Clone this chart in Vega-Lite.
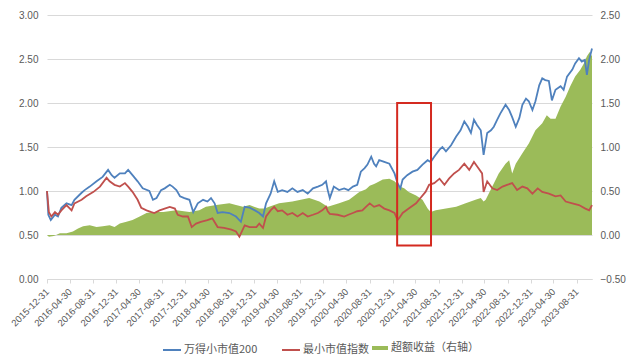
{
  "$schema": "https://vega.github.io/schema/vega-lite/v6.json",
  "width": 545,
  "height": 264,
  "autosize": "none",
  "padding": {"left": 47, "top": 15, "right": 48, "bottom": 82},
  "background": "white",
  "config": {
    "font": "Liberation Sans",
    "view": {"stroke": null},
    "axis": {"labelFont": "Liberation Sans", "labelFontSize": 10, "labelColor": "#595959", "title": null},
    "legend": {"labelFont": "Noto Sans CJK SC", "labelFontSize": 11, "labelColor": "#595959", "padding": 0}
  },
  "datasets": {
    "blue": [
      {"d": "2015-12-31", "v": 1.00}, {"d": "2016-01-07", "v": 0.73}, {"d": "2016-01-20", "v": 0.67}, {"d": "2016-02-11", "v": 0.73},
      {"d": "2016-02-27", "v": 0.71}, {"d": "2016-03-16", "v": 0.81}, {"d": "2016-04-12", "v": 0.86}, {"d": "2016-05-09", "v": 0.84},
      {"d": "2016-05-24", "v": 0.90}, {"d": "2016-07-01", "v": 0.98}, {"d": "2016-07-17", "v": 1.01}, {"d": "2016-08-13", "v": 1.05},
      {"d": "2016-09-18", "v": 1.11}, {"d": "2016-10-20", "v": 1.16}, {"d": "2016-11-18", "v": 1.24}, {"d": "2016-12-07", "v": 1.18},
      {"d": "2016-12-22", "v": 1.15}, {"d": "2017-01-19", "v": 1.20}, {"d": "2017-02-15", "v": 1.20}, {"d": "2017-03-04", "v": 1.24},
      {"d": "2017-03-27", "v": 1.18}, {"d": "2017-04-23", "v": 1.11}, {"d": "2017-05-20", "v": 1.03}, {"d": "2017-06-24", "v": 1.00},
      {"d": "2017-07-13", "v": 0.90}, {"d": "2017-08-01", "v": 0.92}, {"d": "2017-08-25", "v": 1.01}, {"d": "2017-09-13", "v": 1.03},
      {"d": "2017-10-10", "v": 1.07}, {"d": "2017-10-25", "v": 1.05}, {"d": "2017-11-14", "v": 1.01}, {"d": "2017-12-03", "v": 0.94},
      {"d": "2017-12-26", "v": 0.92}, {"d": "2018-01-22", "v": 0.90}, {"d": "2018-02-11", "v": 0.76}, {"d": "2018-03-07", "v": 0.86},
      {"d": "2018-04-04", "v": 0.90}, {"d": "2018-04-27", "v": 0.88}, {"d": "2018-05-16", "v": 0.92}, {"d": "2018-06-04", "v": 0.86},
      {"d": "2018-06-20", "v": 0.75}, {"d": "2018-07-16", "v": 0.76}, {"d": "2018-08-21", "v": 0.75}, {"d": "2018-09-25", "v": 0.71},
      {"d": "2018-10-21", "v": 0.65}, {"d": "2018-11-10", "v": 0.82}, {"d": "2018-12-06", "v": 0.81}, {"d": "2019-01-03", "v": 0.78},
      {"d": "2019-01-26", "v": 0.75}, {"d": "2019-02-15", "v": 0.71}, {"d": "2019-03-03", "v": 0.86}, {"d": "2019-03-27", "v": 0.97},
      {"d": "2019-04-15", "v": 1.11}, {"d": "2019-05-04", "v": 0.99}, {"d": "2019-05-27", "v": 1.01}, {"d": "2019-06-24", "v": 0.99},
      {"d": "2019-07-20", "v": 1.03}, {"d": "2019-08-16", "v": 0.99}, {"d": "2019-09-13", "v": 1.01}, {"d": "2019-10-09", "v": 0.97},
      {"d": "2019-11-06", "v": 1.03}, {"d": "2019-12-02", "v": 1.05}, {"d": "2019-12-25", "v": 1.07}, {"d": "2020-01-14", "v": 1.11},
      {"d": "2020-01-23", "v": 1.01}, {"d": "2020-02-03", "v": 0.92}, {"d": "2020-02-24", "v": 1.05}, {"d": "2020-03-23", "v": 1.01},
      {"d": "2020-04-19", "v": 1.03}, {"d": "2020-05-11", "v": 1.01}, {"d": "2020-06-04", "v": 1.05}, {"d": "2020-06-27", "v": 1.07},
      {"d": "2020-07-16", "v": 1.22}, {"d": "2020-08-05", "v": 1.26}, {"d": "2020-08-20", "v": 1.30}, {"d": "2020-09-09", "v": 1.39},
      {"d": "2020-09-24", "v": 1.31}, {"d": "2020-10-05", "v": 1.28}, {"d": "2020-10-21", "v": 1.35}, {"d": "2020-11-17", "v": 1.33},
      {"d": "2020-12-14", "v": 1.31}, {"d": "2021-01-10", "v": 1.20}, {"d": "2021-01-26", "v": 1.09}, {"d": "2021-02-10", "v": 1.03},
      {"d": "2021-02-22", "v": 1.13}, {"d": "2021-03-18", "v": 1.18}, {"d": "2021-04-15", "v": 1.22}, {"d": "2021-05-11", "v": 1.24},
      {"d": "2021-06-07", "v": 1.30}, {"d": "2021-07-04", "v": 1.35}, {"d": "2021-07-20", "v": 1.33}, {"d": "2021-08-08", "v": 1.39},
      {"d": "2021-09-05", "v": 1.47}, {"d": "2021-09-20", "v": 1.50}, {"d": "2021-10-09", "v": 1.45}, {"d": "2021-11-05", "v": 1.52},
      {"d": "2021-12-02", "v": 1.62}, {"d": "2021-12-25", "v": 1.69}, {"d": "2022-01-14", "v": 1.79}, {"d": "2022-02-02", "v": 1.73},
      {"d": "2022-02-18", "v": 1.66}, {"d": "2022-03-06", "v": 1.81}, {"d": "2022-03-22", "v": 1.75}, {"d": "2022-04-11", "v": 1.69},
      {"d": "2022-04-26", "v": 1.41}, {"d": "2022-05-15", "v": 1.66}, {"d": "2022-06-04", "v": 1.69}, {"d": "2022-06-19", "v": 1.73},
      {"d": "2022-07-07", "v": 1.81}, {"d": "2022-07-23", "v": 1.88}, {"d": "2022-08-20", "v": 1.98}, {"d": "2022-09-08", "v": 1.92},
      {"d": "2022-09-24", "v": 1.84}, {"d": "2022-10-13", "v": 1.73}, {"d": "2022-11-01", "v": 1.83}, {"d": "2022-11-17", "v": 1.98},
      {"d": "2022-12-06", "v": 2.05}, {"d": "2022-12-21", "v": 2.02}, {"d": "2023-01-09", "v": 1.92}, {"d": "2023-01-25", "v": 2.02},
      {"d": "2023-02-14", "v": 2.20}, {"d": "2023-03-02", "v": 2.28}, {"d": "2023-03-18", "v": 2.26}, {"d": "2023-04-06", "v": 2.25},
      {"d": "2023-04-22", "v": 2.03}, {"d": "2023-05-11", "v": 2.15}, {"d": "2023-06-07", "v": 2.19}, {"d": "2023-06-23", "v": 2.15},
      {"d": "2023-07-11", "v": 2.30}, {"d": "2023-08-08", "v": 2.38}, {"d": "2023-08-23", "v": 2.45}, {"d": "2023-09-12", "v": 2.51},
      {"d": "2023-09-27", "v": 2.47}, {"d": "2023-10-13", "v": 2.49}, {"d": "2023-10-24", "v": 2.32}, {"d": "2023-11-05", "v": 2.49},
      {"d": "2023-11-20", "v": 2.62}
    ],
    "red": [
      {"d": "2015-12-31", "v": 1.00}, {"d": "2016-01-10", "v": 0.76}, {"d": "2016-01-23", "v": 0.71}, {"d": "2016-02-11", "v": 0.76},
      {"d": "2016-02-27", "v": 0.73}, {"d": "2016-03-16", "v": 0.78}, {"d": "2016-04-12", "v": 0.84}, {"d": "2016-05-09", "v": 0.78},
      {"d": "2016-05-24", "v": 0.86}, {"d": "2016-07-01", "v": 0.90}, {"d": "2016-07-25", "v": 0.94}, {"d": "2016-09-02", "v": 0.99},
      {"d": "2016-10-06", "v": 1.05}, {"d": "2016-11-10", "v": 1.15}, {"d": "2016-11-26", "v": 1.11}, {"d": "2016-12-22", "v": 1.07},
      {"d": "2017-01-19", "v": 1.05}, {"d": "2017-02-15", "v": 1.09}, {"d": "2017-03-04", "v": 1.05}, {"d": "2017-03-27", "v": 0.99},
      {"d": "2017-04-23", "v": 0.90}, {"d": "2017-05-12", "v": 0.81}, {"d": "2017-06-09", "v": 0.78}, {"d": "2017-07-05", "v": 0.76},
      {"d": "2017-07-20", "v": 0.75}, {"d": "2017-08-17", "v": 0.78}, {"d": "2017-09-13", "v": 0.80}, {"d": "2017-10-10", "v": 0.82},
      {"d": "2017-11-06", "v": 0.80}, {"d": "2017-11-21", "v": 0.73}, {"d": "2017-12-18", "v": 0.71}, {"d": "2018-01-14", "v": 0.71},
      {"d": "2018-02-03", "v": 0.59}, {"d": "2018-02-26", "v": 0.63}, {"d": "2018-03-23", "v": 0.65}, {"d": "2018-04-27", "v": 0.67},
      {"d": "2018-05-23", "v": 0.69}, {"d": "2018-06-20", "v": 0.59}, {"d": "2018-07-24", "v": 0.58}, {"d": "2018-09-01", "v": 0.56},
      {"d": "2018-09-25", "v": 0.54}, {"d": "2018-10-13", "v": 0.48}, {"d": "2018-11-10", "v": 0.61}, {"d": "2018-12-06", "v": 0.59},
      {"d": "2019-01-11", "v": 0.59}, {"d": "2019-01-26", "v": 0.63}, {"d": "2019-02-15", "v": 0.58}, {"d": "2019-03-03", "v": 0.71},
      {"d": "2019-03-27", "v": 0.78}, {"d": "2019-04-15", "v": 0.82}, {"d": "2019-05-04", "v": 0.77}, {"d": "2019-05-27", "v": 0.78},
      {"d": "2019-06-24", "v": 0.73}, {"d": "2019-07-20", "v": 0.75}, {"d": "2019-08-16", "v": 0.71}, {"d": "2019-09-13", "v": 0.75},
      {"d": "2019-10-09", "v": 0.71}, {"d": "2019-11-06", "v": 0.73}, {"d": "2019-12-02", "v": 0.75}, {"d": "2019-12-25", "v": 0.78},
      {"d": "2020-01-14", "v": 0.82}, {"d": "2020-01-23", "v": 0.77}, {"d": "2020-02-03", "v": 0.74}, {"d": "2020-03-15", "v": 0.73},
      {"d": "2020-04-19", "v": 0.71}, {"d": "2020-05-11", "v": 0.73}, {"d": "2020-06-04", "v": 0.75}, {"d": "2020-06-27", "v": 0.77},
      {"d": "2020-07-24", "v": 0.78}, {"d": "2020-08-12", "v": 0.82}, {"d": "2020-09-01", "v": 0.86}, {"d": "2020-09-24", "v": 0.82},
      {"d": "2020-10-21", "v": 0.84}, {"d": "2020-11-17", "v": 0.80}, {"d": "2020-12-14", "v": 0.78}, {"d": "2021-01-10", "v": 0.75},
      {"d": "2021-01-26", "v": 0.67}, {"d": "2021-02-06", "v": 0.70}, {"d": "2021-02-22", "v": 0.75}, {"d": "2021-03-26", "v": 0.80},
      {"d": "2021-05-04", "v": 0.86}, {"d": "2021-05-27", "v": 0.92}, {"d": "2021-06-23", "v": 0.99}, {"d": "2021-07-12", "v": 1.07},
      {"d": "2021-08-08", "v": 1.09}, {"d": "2021-09-05", "v": 1.14}, {"d": "2021-10-01", "v": 1.07}, {"d": "2021-10-25", "v": 1.14},
      {"d": "2021-11-21", "v": 1.20}, {"d": "2021-12-17", "v": 1.24}, {"d": "2022-01-14", "v": 1.31}, {"d": "2022-02-09", "v": 1.24},
      {"d": "2022-03-06", "v": 1.33}, {"d": "2022-03-26", "v": 1.27}, {"d": "2022-04-18", "v": 1.20}, {"d": "2022-04-26", "v": 0.99},
      {"d": "2022-05-15", "v": 1.11}, {"d": "2022-06-11", "v": 1.03}, {"d": "2022-07-07", "v": 1.01}, {"d": "2022-08-04", "v": 1.05},
      {"d": "2022-08-28", "v": 1.07}, {"d": "2022-09-24", "v": 1.09}, {"d": "2022-10-20", "v": 1.01}, {"d": "2022-11-17", "v": 1.05},
      {"d": "2022-12-13", "v": 1.03}, {"d": "2023-01-09", "v": 0.97}, {"d": "2023-02-06", "v": 1.03}, {"d": "2023-03-02", "v": 0.99},
      {"d": "2023-04-06", "v": 0.97}, {"d": "2023-05-11", "v": 0.94}, {"d": "2023-06-07", "v": 0.95}, {"d": "2023-07-04", "v": 0.88},
      {"d": "2023-08-08", "v": 0.86}, {"d": "2023-09-12", "v": 0.84}, {"d": "2023-10-16", "v": 0.80}, {"d": "2023-11-05", "v": 0.78},
      {"d": "2023-11-20", "v": 0.84}
    ],
    "excess": [
      {"d": "2015-12-31", "v": 0.00}, {"d": "2016-01-10", "v": -0.02}, {"d": "2016-02-05", "v": -0.01}, {"d": "2016-03-08", "v": 0.02},
      {"d": "2016-04-12", "v": 0.02}, {"d": "2016-05-16", "v": 0.04}, {"d": "2016-06-12", "v": 0.075}, {"d": "2016-07-09", "v": 0.10},
      {"d": "2016-08-13", "v": 0.11}, {"d": "2016-09-18", "v": 0.09}, {"d": "2016-10-21", "v": 0.10}, {"d": "2016-11-26", "v": 0.11},
      {"d": "2016-12-22", "v": 0.09}, {"d": "2017-01-19", "v": 0.13}, {"d": "2017-02-23", "v": 0.15}, {"d": "2017-03-27", "v": 0.17},
      {"d": "2017-05-04", "v": 0.21}, {"d": "2017-06-09", "v": 0.25}, {"d": "2017-07-13", "v": 0.26}, {"d": "2017-09-05", "v": 0.26},
      {"d": "2017-11-14", "v": 0.28}, {"d": "2018-01-22", "v": 0.26}, {"d": "2018-03-15", "v": 0.28}, {"d": "2018-04-19", "v": 0.32},
      {"d": "2018-06-12", "v": 0.34}, {"d": "2018-08-21", "v": 0.36}, {"d": "2018-09-25", "v": 0.34}, {"d": "2018-11-01", "v": 0.32},
      {"d": "2018-12-06", "v": 0.34}, {"d": "2019-01-26", "v": 0.30}, {"d": "2019-02-23", "v": 0.30}, {"d": "2019-03-19", "v": 0.32},
      {"d": "2019-05-11", "v": 0.36}, {"d": "2019-07-20", "v": 0.38}, {"d": "2019-10-17", "v": 0.42}, {"d": "2019-12-10", "v": 0.38},
      {"d": "2020-01-23", "v": 0.32}, {"d": "2020-03-23", "v": 0.36}, {"d": "2020-05-15", "v": 0.40}, {"d": "2020-07-08", "v": 0.49},
      {"d": "2020-08-12", "v": 0.52}, {"d": "2020-09-01", "v": 0.56}, {"d": "2020-09-24", "v": 0.58}, {"d": "2020-10-05", "v": 0.59},
      {"d": "2020-11-09", "v": 0.63}, {"d": "2020-12-14", "v": 0.64}, {"d": "2021-01-10", "v": 0.61}, {"d": "2021-02-06", "v": 0.55},
      {"d": "2021-03-02", "v": 0.53}, {"d": "2021-03-26", "v": 0.49}, {"d": "2021-05-04", "v": 0.45}, {"d": "2021-06-07", "v": 0.40},
      {"d": "2021-07-04", "v": 0.30}, {"d": "2021-07-20", "v": 0.26}, {"d": "2021-08-16", "v": 0.28}, {"d": "2021-10-09", "v": 0.30},
      {"d": "2021-12-02", "v": 0.32}, {"d": "2022-01-21", "v": 0.36}, {"d": "2022-03-14", "v": 0.40}, {"d": "2022-04-11", "v": 0.42},
      {"d": "2022-04-26", "v": 0.38}, {"d": "2022-05-07", "v": 0.40}, {"d": "2022-06-11", "v": 0.55}, {"d": "2022-07-15", "v": 0.70},
      {"d": "2022-08-20", "v": 0.81}, {"d": "2022-09-08", "v": 0.85}, {"d": "2022-09-24", "v": 0.70}, {"d": "2022-10-13", "v": 0.81},
      {"d": "2022-11-17", "v": 0.93}, {"d": "2022-12-21", "v": 1.04}, {"d": "2023-01-25", "v": 1.19}, {"d": "2023-03-02", "v": 1.27},
      {"d": "2023-03-26", "v": 1.36}, {"d": "2023-04-15", "v": 1.32}, {"d": "2023-05-11", "v": 1.32}, {"d": "2023-06-07", "v": 1.46},
      {"d": "2023-07-04", "v": 1.57}, {"d": "2023-07-28", "v": 1.69}, {"d": "2023-08-23", "v": 1.80}, {"d": "2023-09-20", "v": 1.88},
      {"d": "2023-10-08", "v": 1.95}, {"d": "2023-10-24", "v": 2.03}, {"d": "2023-11-08", "v": 2.08}, {"d": "2023-11-20", "v": 2.03}
    ],
    "box": [
      {"d": "2021-01-24", "d2": "2021-07-22", "lo": 0.38, "hi": 2.0}
    ]
  },
  "encoding": {
    "x": {
      "field": "d", "type": "temporal",
      "scale": {"type": "utc", "domain": [{"year": 2015, "month": 12, "date": 31, "utc": true}, {"year": 2023, "month": 11, "date": 20, "utc": true}]},
      "axis": {
        "values": [
          {"year": 2015, "month": 12, "date": 31, "utc": true}, {"year": 2016, "month": 4, "date": 30, "utc": true}, {"year": 2016, "month": 8, "date": 31, "utc": true},
          {"year": 2016, "month": 12, "date": 31, "utc": true}, {"year": 2017, "month": 4, "date": 30, "utc": true}, {"year": 2017, "month": 8, "date": 31, "utc": true},
          {"year": 2017, "month": 12, "date": 31, "utc": true}, {"year": 2018, "month": 4, "date": 30, "utc": true}, {"year": 2018, "month": 8, "date": 31, "utc": true},
          {"year": 2018, "month": 12, "date": 31, "utc": true}, {"year": 2019, "month": 4, "date": 30, "utc": true}, {"year": 2019, "month": 8, "date": 31, "utc": true},
          {"year": 2019, "month": 12, "date": 31, "utc": true}, {"year": 2020, "month": 4, "date": 30, "utc": true}, {"year": 2020, "month": 8, "date": 31, "utc": true},
          {"year": 2020, "month": 12, "date": 31, "utc": true}, {"year": 2021, "month": 4, "date": 30, "utc": true}, {"year": 2021, "month": 8, "date": 31, "utc": true},
          {"year": 2021, "month": 12, "date": 31, "utc": true}, {"year": 2022, "month": 4, "date": 30, "utc": true}, {"year": 2022, "month": 8, "date": 31, "utc": true},
          {"year": 2022, "month": 12, "date": 31, "utc": true}, {"year": 2023, "month": 4, "date": 30, "utc": true}, {"year": 2023, "month": 8, "date": 31, "utc": true}
        ],
        "format": "%Y-%m-%d", "labelAngle": -45, "labelAlign": "right", "labelBaseline": "middle",
        "labelFontSize": 9.5, "labelPadding": 7, "tickSize": 4, "tickColor": "#D9D9D9", "domainColor": "#D9D9D9",
        "grid": false, "labelOverlap": false, "labelFlush": false, "labelBound": false, "labelSeparation": 0, "title": null
      }
    }
  },
  "layer": [
    {
      "data": {"name": "excess"},
      "mark": {"type": "area", "color": "#9BBB59", "interpolate": "linear"},
      "encoding": {
        "y": {
          "field": "v", "type": "quantitative",
          "scale": {"domain": [-0.5, 2.5], "nice": false, "zero": false},
          "axis": {"orient": "right", "values": [-0.5, 0, 0.5, 1, 1.5, 2, 2.5], "format": ".2f", "grid": false, "domain": false, "ticks": false, "labelPadding": 8, "title": null}
        },
        "y2": {"datum": 0},
        "fill": {
          "datum": "超额收益（右轴）",
          "scale": {"range": ["#9BBB59"]},
          "legend": {"orient": "none", "legendX": 325, "legendY": 325, "direction": "horizontal", "symbolType": "M-1,-0.25L1,-0.25L1,0.25L-1,0.25Z", "symbolSize": 256, "symbolStrokeWidth": 0, "labelOffset": 3, "title": null}
        }
      }
    },
    {
      "layer": [
        {
          "data": {"name": "blue"},
          "mark": {"type": "line", "strokeWidth": 1.8, "interpolate": "linear"},
          "encoding": {
            "y": {
              "field": "v", "type": "quantitative",
              "scale": {"domain": [0, 3], "nice": false, "zero": false},
              "axis": {"orient": "left", "values": [0, 0.5, 1, 1.5, 2, 2.5, 3], "format": ".2f", "grid": true, "gridColor": "#D9D9D9", "domain": false, "ticks": false, "labelPadding": 9, "title": null}
            },
            "stroke": {
              "datum": "万得小市值200",
              "scale": {"domain": ["万得小市值200", "最小市值指数"], "range": ["#4F81BD", "#C0504D"]},
              "legend": {"orient": "none", "legendX": 115, "legendY": 325, "direction": "horizontal", "symbolType": "stroke", "symbolSize": 324, "symbolStrokeWidth": 2, "labelOffset": 2, "columnPadding": 20, "title": null}
            }
          }
        },
        {
          "data": {"name": "red"},
          "mark": {"type": "line", "strokeWidth": 1.8, "interpolate": "linear"},
          "encoding": {
            "y": {"field": "v", "type": "quantitative"},
            "stroke": {"datum": "最小市值指数"}
          }
        },
        {
          "data": {"name": "box"},
          "mark": {"type": "rect", "fill": null, "stroke": "#D42A20", "strokeWidth": 2},
          "encoding": {
            "x2": {"field": "d2"},
            "y": {"field": "lo", "type": "quantitative"},
            "y2": {"field": "hi"}
          }
        }
      ]
    }
  ],
  "resolve": {"scale": {"y": "independent"}}
}
